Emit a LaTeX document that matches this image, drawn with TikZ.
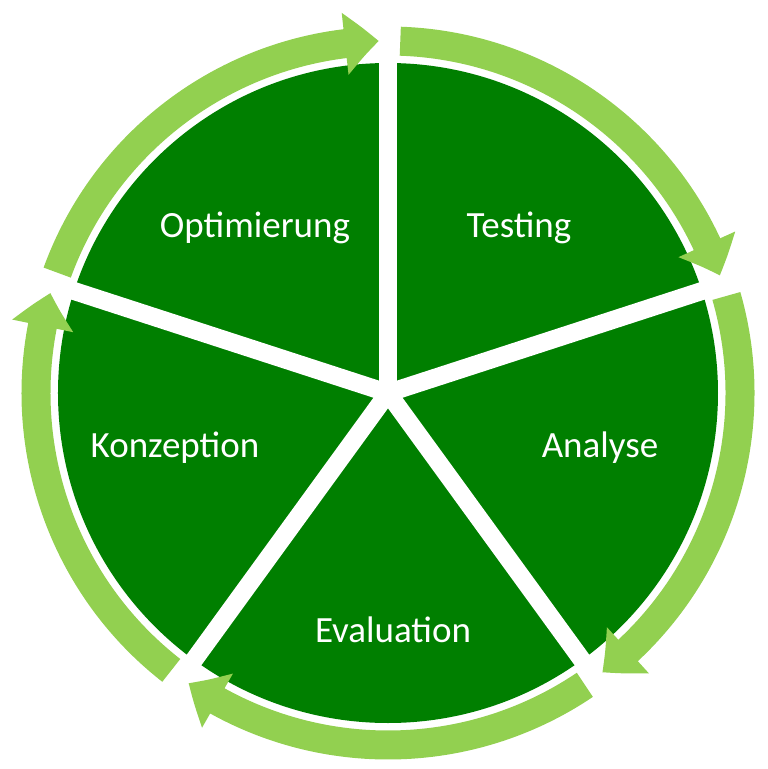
\documentclass[tikz,border=0pt]{standalone}
\usepackage{fontspec}
\setmainfont{Carlito}
\usetikzlibrary{arrows.meta,bending}
\definecolor{darkleaf}{HTML}{007F00}
\definecolor{lightleaf}{HTML}{92D050}
\tikzset{
  phase/.style={text=white,font=\fontsize{37}{42}\selectfont},
  cyclearrow/.style={lightleaf,line width=29pt,
    -{Triangle[width=60pt,length=34pt,bend]}}
}
\begin{document}
\begin{tikzpicture}[x=1pt,y=1pt]
        \def\R{330} % radius of pie
        \def\A{352} % radius of arrows
        \useasboundingbox (-388,-376) rectangle (380,393);
        \coordinate (center) at (0,0);

        \fill[darkleaf] (center) circle (\R);
        % gaps between the phases
        \foreach \g in {90,18,-54,-126,162} {
                \draw[white,line width=18pt] (center) -- (\g:380);}
        % arrows round the pie
        \foreach \g in {90,18,-54,-126,162} {
                \draw[cyclearrow] (\g+70:\A) arc[start angle=\g+70,end angle=\g+1.5,radius=\A];}

        \node[phase] (optimierung) at (-133,165) {Optimierung};
        \node[phase] (testing) at (131,165) {Testing};
        \node[phase] (analyse) at (212,-55) {Analyse};
        \node[phase] (evaluation) at (5,-237) {Evaluation};
        \node[phase] (konzeption) at (-213,-55) {Konzeption};
    \end{tikzpicture}
\end{document}
